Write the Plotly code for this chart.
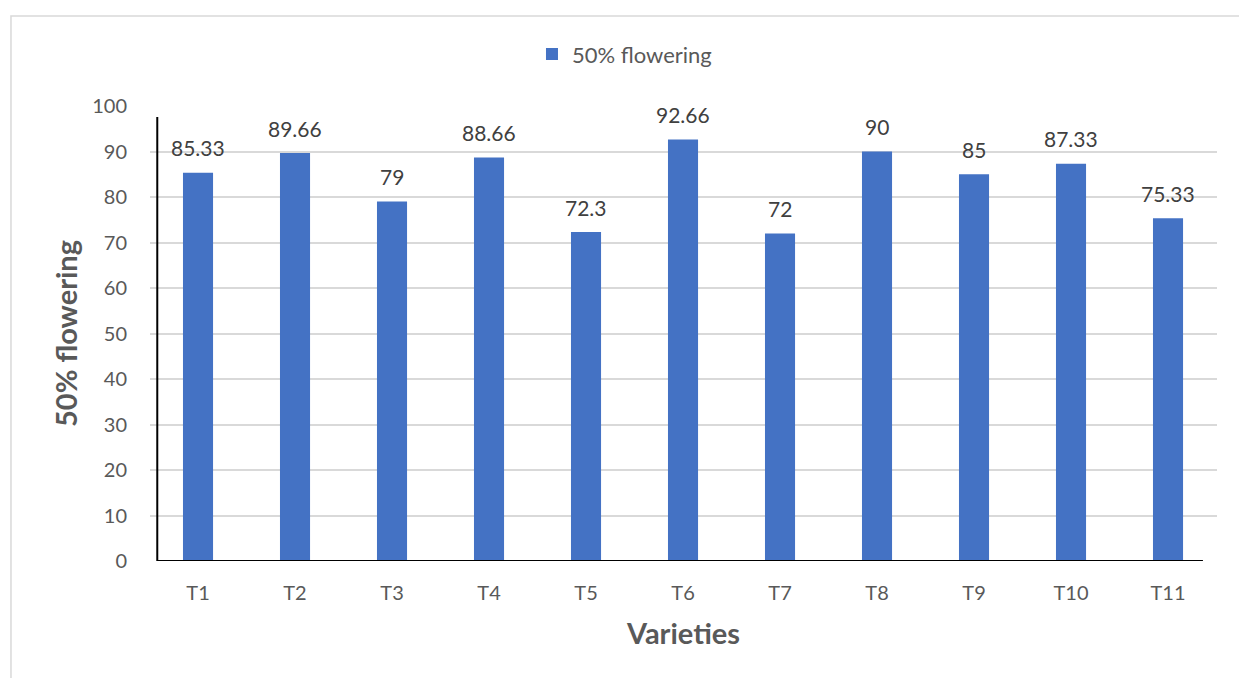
import plotly.graph_objects as go

categories = ["T1", "T2", "T3", "T4", "T5", "T6", "T7", "T8", "T9", "T10", "T11"]
values = [85.33, 89.66, 79, 88.66, 72.3, 92.66, 72, 90, 85, 87.33, 75.33]
value_labels = ["85.33", "89.66", "79", "88.66", "72.3", "92.66", "72", "90", "85", "87.33", "75.33"]
y_ticks = [0, 10, 20, 30, 40, 50, 60, 70, 80, 90, 100]

FONT = "Lato"
BLUE = "#4472C4"

fig = go.Figure()
fig.add_trace(go.Bar(
    x=categories, y=values, name="50% flowering",
    marker=dict(color=BLUE, line=dict(width=0)),
    width=0.31, showlegend=True,
))

annotations = []
for c, v, t in zip(categories, values, value_labels):
    annotations.append(dict(
        x=c, y=v, xref="x", yref="y", text=t, showarrow=False,
        yanchor="middle", yshift=25,
        font=dict(family=FONT, size=21, color="#404040"),
    ))

shapes = [
    # outer chart border
    dict(type="rect", xref="paper", yref="paper", x0=-0.1303, x1=1.05, y0=-0.4, y1=1.1978,
         line=dict(color="#D9D9D9", width=1.5), fillcolor="rgba(0,0,0,0)", layer="below"),
    # black y axis line
    dict(type="line", xref="x", yref="y", x0=-0.42, x1=-0.42, y0=0, y1=97.6,
         line=dict(color="black", width=2)),
    # black x axis line
    dict(type="line", xref="x", yref="y", x0=-0.42, x1=10.36, y0=0, y1=0,
         line=dict(color="black", width=2)),
]

fig.update_layout(
    width=1239, height=678,
    margin=dict(l=150, r=22, t=106, b=117),
    paper_bgcolor="white", plot_bgcolor="white",
    font=dict(family=FONT, color="#595959"),
    bargap=0.69,
    showlegend=True,
    legend=dict(orientation="h", x=0.358, xanchor="left", y=1.114, yanchor="middle",
                font=dict(family=FONT, size=22, color="#595959"),
                bgcolor="rgba(0,0,0,0)"),
    annotations=annotations,
    shapes=shapes,
    xaxis=dict(
        title=dict(text="<b>Varieties</b>", font=dict(family=FONT, size=29, color="#595959"), standoff=20),
        tickfont=dict(family=FONT, size=20, color="#595959"),
        showgrid=False, showline=False, zeroline=False,
        ticks="", ticklabelstandoff=18,
        range=[-0.495, 10.505],
    ),
    yaxis=dict(
        title=dict(text="<b>50% flowering</b>", font=dict(family=FONT, size=29, color="#595959"), standoff=6),
        tickfont=dict(family=FONT, size=20, color="#595959"),
        range=[0, 100], tickvals=y_ticks,
        showgrid=True, gridcolor="#D9D9D9", gridwidth=1.5,
        zeroline=False, showline=False, ticks="", ticklabelstandoff=22,
    ),
)

fig.write_html("out.html")
